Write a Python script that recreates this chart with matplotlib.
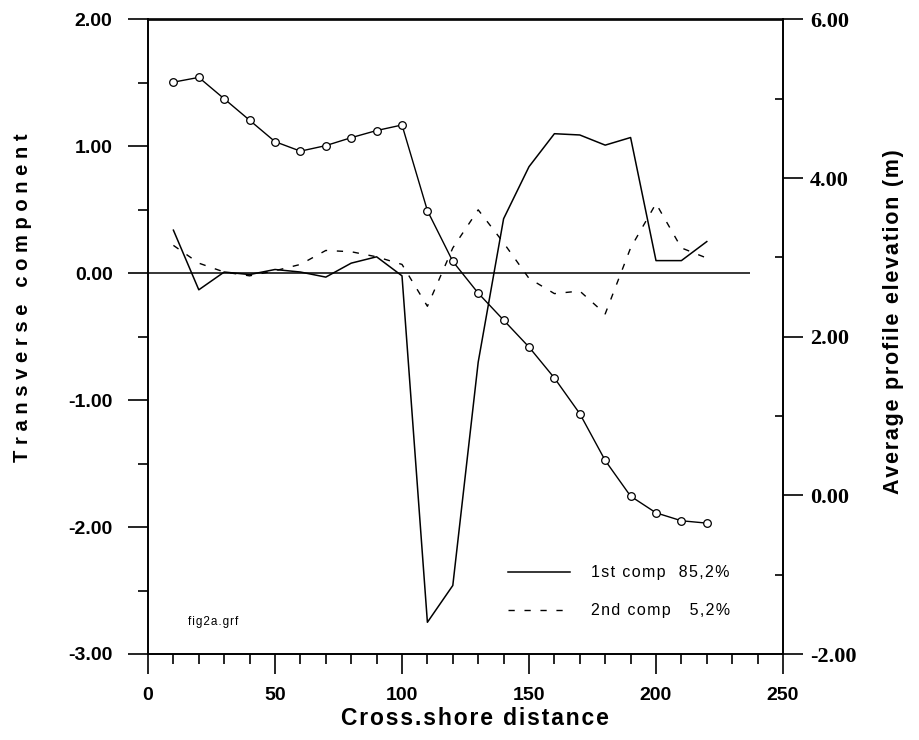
import numpy as np
import matplotlib.pyplot as plt
from matplotlib.ticker import MultipleLocator, FormatStrFormatter

# cross-shore positions (m)
dist = [10, 20, 30, 40, 50, 60, 70, 80, 90, 100, 110,
        120, 130, 140, 150, 160, 170, 180, 190, 200, 210, 220]

# average profile elevation (right axis)
elev = [5.21, 5.27, 5.00, 4.73, 4.46, 4.34, 4.41, 4.51, 4.60, 4.67, 3.59,
        2.95, 2.55, 2.21, 1.87, 1.48, 1.03, 0.44, -0.01, -0.22, -0.32, -0.35]

# transverse components (left axis)
comp1 = [0.34, -0.13, 0.01, -0.01, 0.03, 0.01, -0.03, 0.08, 0.13, -0.02, -2.75,
         -2.46, -0.70, 0.43, 0.84, 1.10, 1.09, 1.01, 1.07, 0.10, 0.10, 0.25]
comp2 = [0.22, 0.08, 0.01, -0.02, 0.02, 0.07, 0.18, 0.17, 0.13, 0.07, -0.26,
         0.20, 0.50, 0.24, -0.04, -0.16, -0.14, -0.32, 0.20, 0.55, 0.20, 0.12]

labels = ['1st comp  85,2%', '2nd comp   5,2%']

SANS = ['Liberation Sans', 'DejaVu Sans']
SERIF = ['Liberation Serif', 'DejaVu Serif']


# old plotting software spaced the letters out a lot
def spaced(s, sep='\u2009'):
    return sep.join(s)


fig = plt.figure(figsize=(9.2, 7.4), dpi=100)
ax = fig.add_axes([148 / 920, 1 - 654 / 740, 635 / 920, 634.5 / 740])

ax.plot(dist, comp1, color='black', lw=1.1, label=spaced(labels[0], '\u200a'))
ax.plot(dist, comp2, color='black', lw=1.0, dashes=(4.5, 7),
        label=spaced(labels[1], '\u200a'))
ax.hlines(0, 0, 237, color='black', lw=1.1)

ax.set_xlim(0, 250)
ax.set_ylim(-3, 2)

ax.xaxis.set_major_locator(MultipleLocator(50))
ax.xaxis.set_minor_locator(MultipleLocator(10))
ax.yaxis.set_major_locator(MultipleLocator(1))
ax.yaxis.set_minor_locator(MultipleLocator(0.5))
ax.yaxis.set_major_formatter(FormatStrFormatter('%.2f'))
ax.tick_params(which='major', direction='out', length=14.5, width=1.2,
               top=False, right=False)
ax.tick_params(axis='y', which='major', pad=11)
ax.tick_params(axis='x', which='major', pad=9)
ax.tick_params(which='minor', direction='out', length=7, width=1.2,
               top=False, right=False)
for lab in ax.get_xticklabels() + ax.get_yticklabels():
    lab.set_family(SANS)
    lab.set_fontweight('bold')
    lab.set_fontsize(14)
for sp in ax.spines.values():
    sp.set_linewidth(1.2)

ax2 = ax.twinx()
ax2.plot(dist, elev, color='black', lw=1.0, marker='o', markersize=5.5,
         markerfacecolor='white', markeredgewidth=0.9)
ax2.set_ylim(-2, 6)
ax2.yaxis.set_major_locator(MultipleLocator(2))
ax2.yaxis.set_minor_locator(MultipleLocator(1))
ax2.yaxis.set_major_formatter(FormatStrFormatter('%.2f'))
ax2.tick_params(which='major', direction='out', length=14.5, width=1.2, pad=5)
ax2.tick_params(which='minor', direction='in', length=6, width=1.2)
for lab in ax2.get_yticklabels():
    lab.set_family(SERIF)
    lab.set_fontweight('bold')
    lab.set_fontsize(16)
for sp in ax2.spines.values():
    sp.set_linewidth(1.2)

leg = ax.legend(loc='upper left', bbox_to_anchor=(0.567, 0.14), frameon=False,
                handlelength=3.9, handletextpad=1.3, labelspacing=1.45,
                borderpad=0, borderaxespad=0,
                prop={'family': SANS, 'size': 11.5})

ax.text(0.063, 0.05, spaced('fig2a.grf', '\u200a'), transform=ax.transAxes,
        fontsize=8.5, family=SANS, va='center')

fig.text(0.024, 0.597, spaced('Transverse component', '\u2009\u200a'),
         rotation=90, ha='center', va='center', fontsize=14.5,
         fontweight='bold', family=SANS)
fig.text(0.9707, 0.5655, spaced('Average profile elevation (m)', '\u200a'),
         rotation=90, ha='center', va='center', fontsize=15.5,
         fontweight='bold', family=SANS)
fig.text(0.516, 0.0297, spaced('Cross.shore distance', '\u200a'),
         ha='center', va='center', fontsize=16.5, fontweight='bold', family=SANS)

fig.savefig('out.png', dpi=100)
